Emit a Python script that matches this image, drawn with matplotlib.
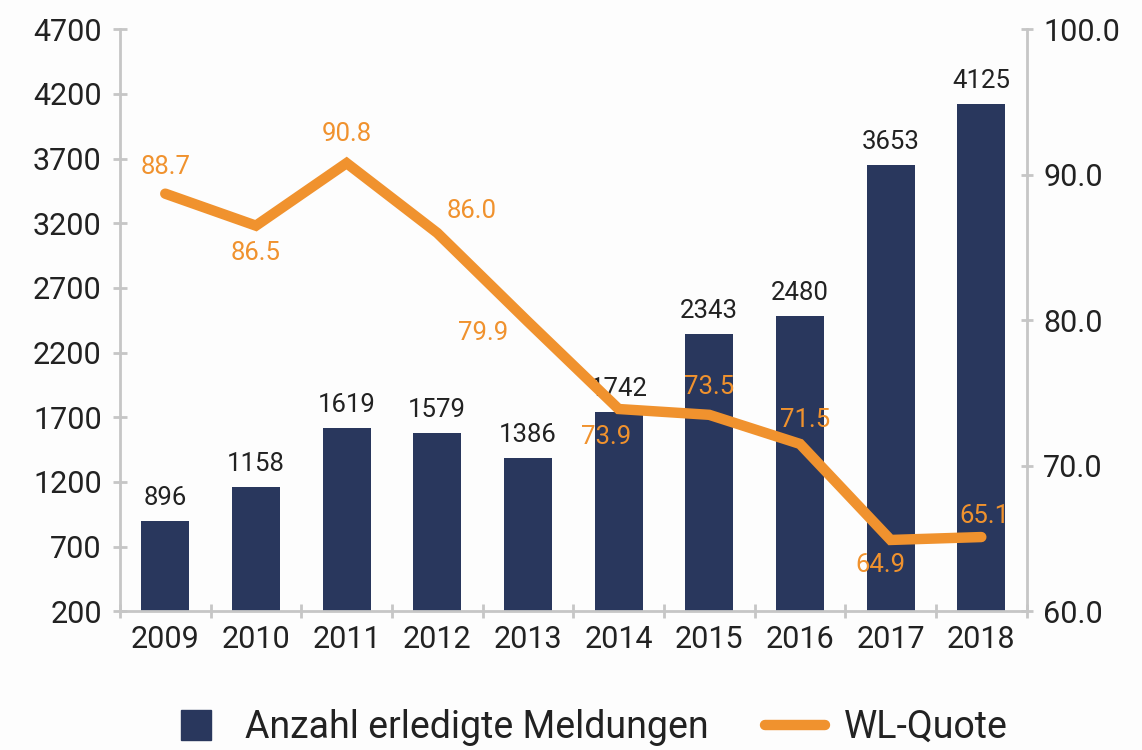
import matplotlib
matplotlib.use("Agg")
import matplotlib.pyplot as plt
from matplotlib.lines import Line2D

plt.rcParams['font.family'] = ['Roboto', 'DejaVu Sans']

years = ["2009", "2010", "2011", "2012", "2013", "2014", "2015", "2016", "2017", "2018"]
meldungen = [896, 1158, 1619, 1579, 1386, 1742, 2343, 2480, 3653, 4125]
wl_quote = [88.7, 86.5, 90.8, 86.0, 79.9, 73.9, 73.5, 71.5, 64.9, 65.1]
left_ticks = [200, 700, 1200, 1700, 2200, 2700, 3200, 3700, 4200, 4700]
right_ticks = [60.0, 70.0, 80.0, 90.0, 100.0]
# label offsets (points) for line labels
quote_offsets = [(0, 19), (0, -20), (0, 21), (25, 16), (-32, -8), (-9, -20), (0, 20), (4, 17), (-7, -18), (2, 15)]

navy = "#29375d"
orange = "#f0922e"
grey = "#c6c6c6"
txt = "#222222"

fig = plt.figure(figsize=(11.42, 7.5), dpi=100, facecolor="#fdfdfd")
ax = fig.add_axes([0.105, 0.185, 0.794, 0.776])
ax.set_facecolor("#fdfdfd")
x = list(range(len(years)))
ax.bar(x, [m - 200 for m in meldungen], bottom=200, width=0.53, color=navy, zorder=2)
ax.set_ylim(200, 4700)
ax.set_xlim(-0.5, len(years) - 0.5)
ax.set_yticks(left_ticks)
ax.set_yticklabels([str(t) for t in left_ticks], fontsize=22, color=txt)
ax.set_xticks(x)
ax.set_xticklabels(years, fontsize=22, color=txt)
ax.set_xticks([i - 0.5 for i in range(len(years) + 1)], minor=True)
ax.tick_params(axis='x', which='major', length=0, pad=10)
ax.tick_params(axis='x', which='minor', length=10, direction='inout', color=grey, width=2)
ax.tick_params(axis='y', length=10, direction='inout', color=grey, width=2, pad=8)
for s in ['top', 'right']:
    ax.spines[s].set_visible(False)
for s in ['left', 'bottom']:
    ax.spines[s].set_color(grey)
    ax.spines[s].set_linewidth(2)

for xi, m in zip(x, meldungen):
    ax.annotate(str(m), (xi, m), xytext=(0, 8), textcoords='offset points',
                ha='center', va='bottom', fontsize=18.5, color=txt, zorder=4)

ax2 = ax.twinx()
ax2.set_ylim(60, 100)
ax2.set_yticks(right_ticks)
ax2.set_yticklabels([f"{t:.1f}" for t in right_ticks], fontsize=22, color=txt)
ax2.tick_params(axis='y', length=8, direction='inout', color=grey, width=2, pad=8)
for s in ['top', 'left', 'bottom']:
    ax2.spines[s].set_visible(False)
ax2.spines['right'].set_color(grey)
ax2.spines['right'].set_linewidth(2)
ax2.plot(x, wl_quote, color=orange, lw=7.5, solid_capstyle='round', solid_joinstyle='miter', zorder=3)
for xi, q, off in zip(x, wl_quote, quote_offsets):
    ax2.annotate(f"{q:.1f}", (xi, q), xytext=off, textcoords='offset points',
                 ha='center', va='center', fontsize=18.5, color=orange, zorder=5)

handles = [Line2D([0], [0], color=navy, marker='s', markersize=22, linestyle='none'),
           Line2D([0], [0], color=orange, lw=7.5, solid_capstyle='round')]
fig.legend(handles, ["Anzahl erledigte Meldungen", "WL-Quote"], loc='center',
           bbox_to_anchor=(0.514, 0.03), ncol=2, frameon=False, fontsize=27,
           handlelength=1.6, columnspacing=1.5, handletextpad=0.5,
           labelcolor=txt)

fig.savefig("out.png", dpi=100, facecolor=fig.get_facecolor())
